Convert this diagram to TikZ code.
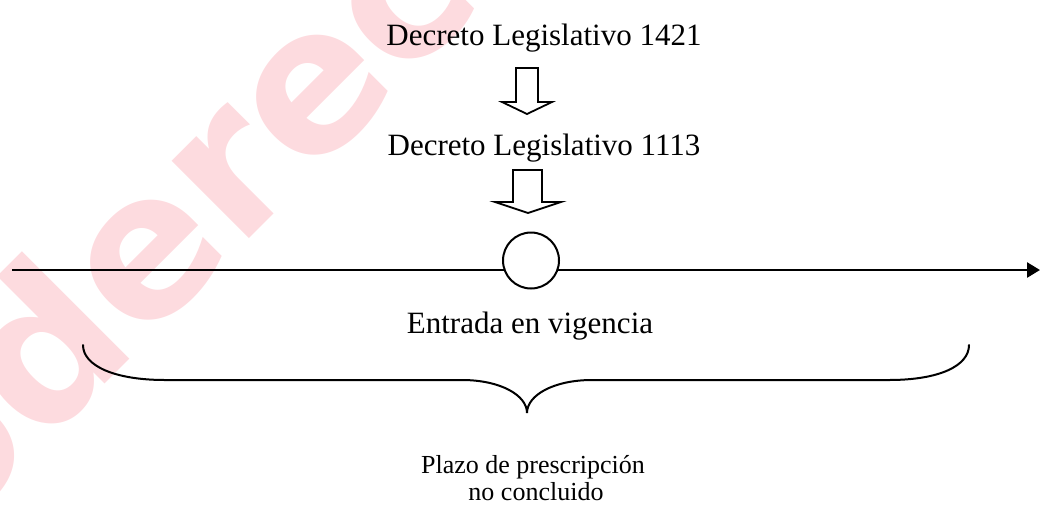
\documentclass[tikz,border=0pt]{standalone}
\usepackage{fontspec}
\setmainfont{Liberation Serif}
\newfontfamily\wmfont{DejaVu Sans}
\usetikzlibrary{arrows.meta}
\definecolor{wmpink}{RGB}{253,219,223}
\tikzset{
  lbl/.style={anchor=base, inner sep=0pt, font=\fontsize{31}{36}\selectfont},
  small/.style={anchor=base, inner sep=0pt, font=\fontsize{26}{27}\selectfont},
  blockarrow/.style={draw=black, line width=1.8pt, fill=white, line join=miter},
  wmtext/.style={text=wmpink, inner sep=0pt, font=\wmfont\bfseries\fontsize{200}{200}\selectfont},
  axis/.style={line width=2.6pt, -{Triangle[length=13pt,width=15pt]}},
  brace/.style={line width=2pt, line cap=round}
}
\begin{document}
\begin{tikzpicture}[x=1pt,y=-1pt]
\useasboundingbox (0,0) rectangle (1040,507);
\begin{scope}
  \clip (0,0) rectangle (1040,507);
  \node[wmtext, rotate=45, anchor=mid west] (wm) at (-160,645) {poderec};
\end{scope}

% texts
\node[lbl] (d1) at (544,45) {Decreto Legislativo 1421};
\node[lbl] (d2) at (544,155) {Decreto Legislativo 1113};
\node[lbl] (ev) at (530,333) {Entrada en vigencia};
\node[small] (p1) at (533,473) {Plazo de prescripción};
\node[small] (p2) at (536,500) {no concluido};

% block arrows
\draw[blockarrow] (516,68) -- (538,68) -- (538,102) -- (552,102) -- (527,114) -- (502,102) -- (516,102) -- cycle;
\draw[blockarrow] (513,170) -- (542,170) -- (542,202) -- (561,202) -- (528,213) -- (495,202) -- (513,202) -- cycle;

% time line
\coordinate (L) at (12,270);
\coordinate (R) at (1040,270);
\draw[axis] (L) -- (R);
\node[draw, circle, line width=2pt, fill=white, minimum size=56pt, inner sep=0pt] (c) at (531,260.5) {};

% brace
\draw[brace] (83,345) .. controls (83,366) and (115,380) .. (165,380) -- (462,380)
  .. controls (500,380) and (527,395) .. (527,413)
  .. controls (527,395) and (554,380) .. (592,380) -- (889,380)
  .. controls (939,380) and (969,366) .. (969,345);
\end{tikzpicture}
\end{document}
